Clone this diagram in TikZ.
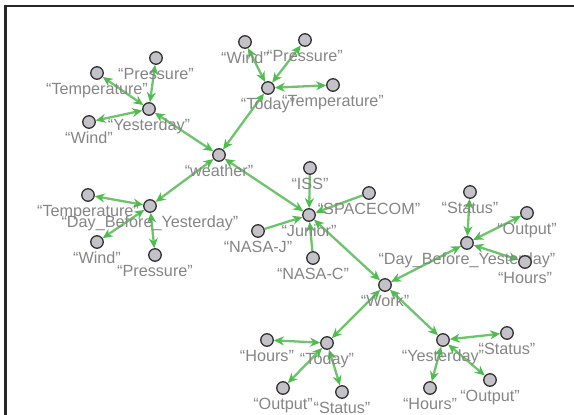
\documentclass[tikz,border=0pt]{standalone}
\usepackage{fontspec}
\setmainfont{Liberation Sans}
\usetikzlibrary{arrows.meta,backgrounds}
\definecolor{edgegreen}{HTML}{6CC46C}
\definecolor{arrowgreen}{HTML}{4DBE4D}
\definecolor{nodegray}{HTML}{C4C2C8}
\definecolor{labgray}{HTML}{858585}
\tikzset{
  vtx/.style={circle,draw=black!80,line width=1.3pt,fill=nodegray,minimum size=12.5pt,inner sep=0pt},
  lab/.style={font=\fontsize{16.2}{16.2}\selectfont,text=labgray,inner sep=0pt},
  link/.style={draw=edgegreen,line width=2.3pt},
  tip/.tip={Stealth[length=10pt,width=9pt,color=arrowgreen]},
  both/.style={link,tip-tip},
  one/.style={link,-tip},
  label distance=3pt
}
\newcommand{\nd}[4]{\node[vtx,label={[lab]below:{#4}}] (#1) at (#2,#3) {};}
\begin{document}
\begin{tikzpicture}[x=1pt,y=-1pt]
\useasboundingbox (0,0) rectangle (574,415);
\draw[line width=2.5pt,black!85] (5.3,416) -- (5.3,6) -- (575,6);

\nd{weather}{219}{155}{“weather”}
\nd{yest}{149}{109}{“Yesterday”}
\nd{yP}{156}{58}{“Pressure”}
\nd{yT}{97}{73}{“Temperature”}
\nd{yW}{89}{122}{“Wind”}
\nd{today}{268}{88}{“Today”}
\nd{tW}{245}{42}{“Wind”}
\nd{tP}{305}{40}{“Pressure”}
\nd{tT}{333}{85}{“Temperature”}
\nd{dby}{150}{206}{“Day\_Before\_Yesterday”}
\nd{dT}{88}{195}{“Temperature”}
\nd{dW}{97}{242}{“Wind”}
\nd{dP}{155}{255}{“Pressure”}
\nd{junior}{309}{215}{“Junior”}
\nd{iss}{310}{168}{“ISS”}
\nd{spc}{369}{193}{“SPACECOM”}
\nd{nasaj}{258}{231}{“NASA-J”}
\nd{nasac}{313}{258}{“NASA-C”}
\nd{work}{385}{285}{“Work”}
\nd{wdby}{467}{243}{“Day\_Before\_Yesterday”}
\nd{wdS}{470}{192}{“Status”}
\nd{wdO}{527}{213}{“Output”}
\nd{wdH}{525}{262}{“Hours”}
\nd{wtoday}{327}{343}{“Today”}
\nd{wtH}{267}{340}{“Hours”}
\nd{wtO}{283}{388}{“Output”}
\nd{wtS}{342}{392}{“Status”}
\nd{wyest}{443}{340}{“Yesterday”}
\nd{wyS}{507}{333}{“Status”}
\nd{wyO}{490}{380}{“Output”}
\nd{wyH}{430}{388}{“Hours”}

\begin{scope}[on background layer]
\draw[both] (weather) -- (yest);
\draw[both] (weather) -- (today);
\draw[both] (weather) -- (dby);
\draw[both] (weather) -- (junior);
\draw[both] (yest) -- (yP);
\draw[both] (yest) -- (yT);
\draw[both] (yest) -- (yW);
\draw[both] (today) -- (tW);
\draw[both] (today) -- (tP);
\draw[both] (today) -- (tT);
\draw[both] (dby) -- (dT);
\draw[both] (dby) -- (dW);
\draw[both] (dby) -- (dP);
\draw[one] (iss) -- (junior);
\draw[one] (spc) -- (junior);
\draw[one] (nasaj) -- (junior);
\draw[one] (nasac) -- (junior);
\draw[both] (junior) -- (work);
\draw[both] (work) -- (wdby);
\draw[both] (work) -- (wtoday);
\draw[both] (work) -- (wyest);
\draw[both] (wdby) -- (wdS);
\draw[both] (wdby) -- (wdO);
\draw[both] (wdby) -- (wdH);
\draw[both] (wtoday) -- (wtH);
\draw[both] (wtoday) -- (wtO);
\draw[both] (wtoday) -- (wtS);
\draw[both] (wyest) -- (wyS);
\draw[both] (wyest) -- (wyO);
\draw[both] (wyest) -- (wyH);
\end{scope}
\end{tikzpicture}
\end{document}
